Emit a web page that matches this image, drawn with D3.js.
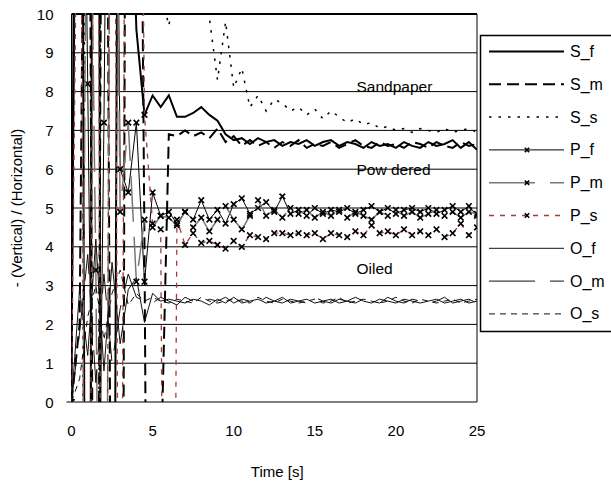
<html>
<meta charset="utf-8">
<head>
<script src="https://d3js.org/d3.v7.min.js"></script>
<style>
html, body {
  margin:0;
  padding:0;
  background:#ffffff;
}
svg { display:block; }
</style>
</head>
<body>

<svg class="svg"></svg>

<script>

// time axis (s)
const time = [0,0.5,1,1.5,2,2.5,3,3.5,4,4.5,5,5.5,6,6.5,7,7.5,8,8.5,9,9.5,10,
  10.5,11,11.5,12,12.5,13,13.5,14,14.5,15,15.5,16,16.5,17,17.5,18,18.5,19,19.5,20,
  20.5,21,21.5,22,22.5,23,23.5,24,24.5,25]

// sandpaper
const S_f = [0,40,-30,50,-40,-20,30,16,9.6,7.4,7.9,7.6,7.9,7.35,7.35,7.45,7.6,7.4,7.25,6.9,6.75,
  6.8,6.65,6.8,6.7,6.75,6.6,6.7,6.65,6.75,6.6,6.7,6.75,6.6,6.7,6.65,6.55,6.7,6.6,6.65,6.55,
  6.7,6.6,6.55,6.7,6.6,6.65,6.75,6.55,6.7,6.5]
const S_m = [0,2,25,-20,30,-10,-30,40,30,4,-30,-2,6.9,6.85,7.0,6.85,6.95,6.8,7.05,6.7,6.85,
  6.6,6.75,6.6,6.7,6.55,6.7,6.6,6.75,6.55,6.65,6.6,6.7,6.55,6.65,6.75,6.6,6.55,6.7,6.6,6.65,
  6.55,6.7,6.65,6.55,6.7,6.6,6.55,6.7,6.6,6.65]
const S_s = [0,-20,30,-25,40,35,40,30,25,20,18,10.6,9.7,10.8,14,16,12,9.9,8.3,9.8,8.1,
  8.6,7.6,7.9,7.5,7.8,7.7,7.5,7.6,7.4,7.55,7.3,7.5,7.35,7.2,7.3,7.15,7.2,7.05,7.1,7.0,
  7.05,6.95,7.05,7.0,6.95,7.05,6.95,7.0,7.05,6.95]

// powdered
const P_f = [0,25,8.2,-10,7.2,30,6.0,5.4,7.2,3.1,5.4,4.8,4.9,4.6,4.9,4.7,5.2,4.7,4.95,4.6,5.1,
  5.25,4.85,5.0,5.15,4.9,5.3,4.85,4.95,4.8,5.0,4.85,4.95,4.9,5.0,4.85,4.95,5.05,4.9,5.0,4.85,
  4.95,5.0,4.9,5.0,4.85,4.95,5.05,4.9,5.05,4.8]
const P_m = [0,-15,20,3.4,-20,25,4.9,7.2,3.1,4.7,4.5,4.8,4.75,4.55,4.9,4.5,4.75,4.4,4.7,5.05,4.7,
  4.45,4.8,5.2,4.8,4.95,4.75,5.0,4.85,4.95,4.75,4.9,4.8,4.95,4.75,4.9,4.8,4.7,4.9,4.8,4.95,
  4.8,4.9,4.75,4.85,4.95,4.8,4.9,4.75,4.9,4.85]
const P_s = [0,20,-20,30,-25,30,-15,35,30,7.4,4.6,4.45,-30,4.7,4.05,4.35,4.1,4.15,4.05,3.95,4.15,
  4.0,4.3,4.25,4.2,4.35,4.35,4.3,4.35,4.3,4.35,4.2,4.35,4.3,4.25,4.4,4.3,4.55,4.35,4.4,4.3,
  4.45,4.3,4.4,4.3,4.45,4.25,4.35,4.6,4.3,4.5]

// oiled
const O_f = [0,2.9,1.2,4.2,0.8,3.6,1.5,2.9,3.2,2.05,2.8,2.6,2.65,2.6,2.55,2.65,2.6,2.5,2.65,2.55,2.7,
  2.55,2.6,2.65,2.55,2.6,2.7,2.55,2.6,2.65,2.55,2.6,2.65,2.55,2.6,2.7,2.6,2.55,2.65,2.6,2.55,
  2.65,2.6,2.55,2.6,2.65,2.55,2.6,2.65,2.55,2.6]
const O_m = [0,1.8,3.8,0.5,3.3,1.0,2.4,3.3,2.7,2.6,2.55,2.7,2.6,2.5,2.7,2.6,2.55,2.65,2.6,2.7,2.55,
  2.65,2.6,2.55,2.7,2.6,2.55,2.65,2.6,2.55,2.7,2.6,2.55,2.65,2.6,2.55,2.65,2.6,2.55,2.7,2.6,
  2.55,2.65,2.6,2.55,2.6,2.7,2.55,2.6,2.65,2.55]
const O_s = [0,0.6,2.2,3.0,1.6,2.8,3.4,2.5,2.8,2.6,2.7,2.6,2.55,2.65,2.6,2.55,2.7,2.6,2.55,2.6,2.65,
  2.6,2.55,2.7,2.6,2.55,2.65,2.6,2.55,2.6,2.65,2.55,2.6,2.7,2.55,2.6,2.65,2.6,2.55,2.6,2.7,
  2.6,2.55,2.65,2.6,2.55,2.6,2.65,2.55,2.6,2.65]

const yTicks = [0,1,2,3,4,5,6,7,8,9,10]
const xTicks = [0,5,10,15,20,25]

const regionLabels = [
  {text:"Sandpaper", v:8.0},
  {text:"Pow dered", v:5.85},
  {text:"Oiled", v:3.3}
]

// series styles
const series = [
  {name:"S_f", values:S_f, stroke:"#000", width:2,   dash:null,    marker:false},
  {name:"S_m", values:S_m, stroke:"#000", width:2,   dash:"12,6",  marker:false},
  {name:"S_s", values:S_s, stroke:"#000", width:1.5, dash:"2.5,7", marker:false},
  {name:"P_f", values:P_f, stroke:"#000", width:1,   dash:null,    marker:true},
  {name:"P_m", values:P_m, stroke:"#777", width:1.5, dash:"46,15", marker:true},
  {name:"P_s", values:P_s, stroke:"#a03c3c", width:1.3, dash:"5,6", marker:true},
  {name:"O_f", values:O_f, stroke:"#111", width:1,   dash:null,    marker:false},
  {name:"O_m", values:O_m, stroke:"#111", width:1,   dash:"46,15", marker:false},
  {name:"O_s", values:O_s, stroke:"#111", width:1,   dash:"6,5",   marker:false}
]

const margin = ({left:71.5, top:14})
const plot = ({width:405.5, height:388})

var svg = d3.select("svg")
  .attr("width", 611)
  .attr("height", 484)

svg.append("rect")
  .attr("width", 611)
  .attr("height", 484)
  .attr("fill", "#ffffff")

var xScale = d3.scaleLinear()
  .domain([0,25])
  .range([0, plot.width])

var yScale = d3.scaleLinear()
  .domain([0,10])
  .range([plot.height, 0])

svg.append("defs")
  .append("clipPath")
  .attr("id", "plotclip")
  .append("rect")
  .attr("x", 0)
  .attr("y", -1)
  .attr("width", plot.width)
  .attr("height", plot.height + 1)

const g = svg.append("g")
  .attr("transform", "translate(" + margin.left + "," + margin.top + ")")

// gridlines
g.selectAll(".grid")
  .data(yTicks.filter(d => d > 0))
  .enter().append("line")
  .attr("class", "grid")
  .attr("x1", 0)
  .attr("x2", plot.width)
  .attr("y1", d => yScale(d))
  .attr("y2", d => yScale(d))
  .attr("stroke", "#000")
  .attr("stroke-width", d => d == 10 ? 2 : 1)

// axes lines
g.append("line")
  .attr("x1", 0).attr("x2", 0)
  .attr("y1", 0).attr("y2", plot.height)
  .attr("stroke", "#000")
g.append("line")
  .attr("x1", -5).attr("x2", plot.width)
  .attr("y1", plot.height).attr("y2", plot.height)
  .attr("stroke", "#000")
g.append("line")
  .attr("x1", plot.width).attr("x2", plot.width)
  .attr("y1", 0).attr("y2", plot.height)
  .attr("stroke", "#000")

// y tick labels
g.selectAll(".ytick")
  .data(yTicks)
  .enter().append("text")
  .attr("class", "ytick")
  .attr("x", -18)
  .attr("y", d => yScale(d) + 5.5)
  .attr("text-anchor", "end")
  .style("font", "15px 'Liberation Sans', Arial, sans-serif")
  .text(d => d)

// x tick labels
g.selectAll(".xtick")
  .data(xTicks)
  .enter().append("text")
  .attr("class", "xtick")
  .attr("x", d => xScale(d))
  .attr("y", plot.height + 34)
  .attr("text-anchor", "middle")
  .style("font", "15px 'Liberation Sans', Arial, sans-serif")
  .text(d => d)

// data lines
const line = d3.line()
  .x(d => xScale(d.t))
  .y(d => yScale(d.v))

const dataG = g.append("g").attr("clip-path", "url(#plotclip)")

function xMark(sel, size) {
  sel.append("path")
    .attr("d", "M" + (-size) + "," + (-size) + "L" + size + "," + size +
               "M" + (-size) + "," + size + "L" + size + "," + (-size))
    .attr("stroke", "#000")
    .attr("stroke-width", 1.6)
    .attr("fill", "none")
}

series.forEach(function(s) {
  const pts = time.map((t, i) => ({t:t, v:s.values[i]}))
  dataG.append("path")
    .datum(pts)
    .attr("d", line)
    .attr("fill", "none")
    .attr("stroke", s.stroke)
    .attr("stroke-width", s.width)
    .attr("stroke-dasharray", s.dash)
  if (s.marker) {
    dataG.append("g").selectAll("g")
      .data(pts.filter(p => p.v >= -1 && p.v <= 11))
      .enter().append("g")
      .attr("transform", p => "translate(" + xScale(p.t) + "," + yScale(p.v) + ")")
      .call(xMark, 2.8)
  }
})

// region labels
g.selectAll(".region")
  .data(regionLabels)
  .enter().append("text")
  .attr("class", "region")
  .attr("x", 285)
  .attr("y", d => yScale(d.v))
  .style("font", "15.5px 'Liberation Sans', Arial, sans-serif")
  .text(d => d.text)

// axis titles
svg.append("text")
  .attr("transform", "translate(22," + (margin.top + plot.height / 2) + ") rotate(-90)")
  .attr("text-anchor", "middle")
  .style("font", "15px 'Liberation Sans', Arial, sans-serif")
  .text("- (Vertical) / (Horizontal)")

svg.append("text")
  .attr("x", margin.left + plot.width / 2 + 3)
  .attr("y", 477)
  .attr("text-anchor", "middle")
  .style("font", "15px 'Liberation Sans', Arial, sans-serif")
  .text("Time [s]")

// legend
const legend = svg.append("g")
  .attr("transform", "translate(480,35)")

legend.append("rect")
  .attr("x", 0.5).attr("y", 0.5)
  .attr("width", 150).attr("height", 296)
  .attr("fill", "#fff")
  .attr("stroke", "#000")
  .attr("stroke-width", 1.5)

const item = legend.selectAll(".item")
  .data(series)
  .enter().append("g")
  .attr("class", "item")
  .attr("transform", (d, i) => "translate(0," + (16.5 + i * 32.8) + ")")

item.append("line")
  .attr("x1", 9).attr("x2", 84)
  .attr("stroke", d => d.stroke)
  .attr("stroke-width", d => d.width)
  .attr("stroke-dasharray", d => d.dash)

item.filter(d => d.marker).append("g")
  .attr("transform", "translate(47,0)")
  .call(xMark, 2.2)

item.append("text")
  .attr("x", 90)
  .attr("y", 5.5)
  .style("font", "16px 'Liberation Sans', Arial, sans-serif")
  .text(d => d.name)

</script>
</body>
</html>
